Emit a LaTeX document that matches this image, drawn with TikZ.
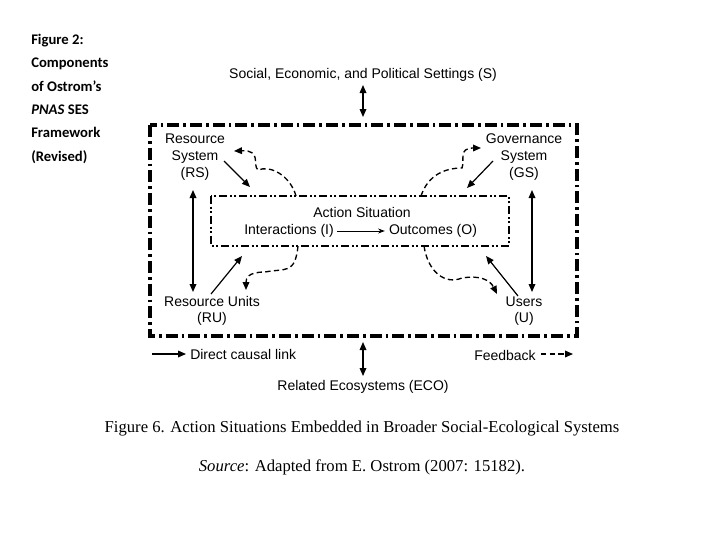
\documentclass[tikz,border=0pt]{standalone}
\usepackage{fontspec}
\setmainfont{Liberation Sans}
\newfontfamily\capfont{Liberation Serif}
\newfontfamily\leftfont{Carlito}
\usetikzlibrary{arrows.meta}
\begin{document}
\begin{tikzpicture}[x=0.75pt,y=-0.75pt,
  lbl/.style={font=\fontsize{10.5}{12.5}\selectfont, align=center, inner sep=0pt},
  causal/.style={-{Triangle[length=6pt,width=5pt]}, line width=0.9pt},
  dbl/.style={{Triangle[length=6pt,width=5pt]}-{Triangle[length=6pt,width=5pt]}, line width=0.9pt},
  fb/.style={-{Triangle[length=6pt,width=5pt]}, line width=1pt, dash pattern=on 4pt off 2.5pt}]
\useasboundingbox (0,0) rectangle (720,540);
\fill[white] (0,0) rectangle (720,540);
% left text
\node[anchor=north west, align=left, font=\leftfont\bfseries\fontsize{11}{17.5}\selectfont, inner sep=0pt] (lt) at (31,34)
 {Figure 2:\\Components\\of Ostrom’s\\\textit{PNAS} SES\\Framework\\(Revised)};
% boxes
\draw[line width=2.6pt, dash pattern=on 9pt off 3pt on 2pt off 3pt] (150,125) rectangle (577,336);
\draw[line width=1.3pt, dash pattern=on 6pt off 2pt on 1.5pt off 2pt on 1.5pt off 2pt] (211,196) rectangle (509,246);
\node[lbl] (as) at (362,212) {Action Situation};
\node[lbl] (int) at (289,231) {Interactions (I)};
\node[lbl] (out) at (433,231) {Outcomes (O)};
\draw[-{Stealth[length=5pt]}, line width=0.6pt] (int.east)+(3,0) coordinate (ia) -- ([xshift=-3pt]out.west);
% nodes
\node[lbl] (s) at (363,75) {Social, Economic, and Political Settings (S)};
\node[lbl] (eco) at (363,387) {Related Ecosystems (ECO)};
\node[lbl] (rs) at (195,157) {Resource\\System\\(RS)};
\node[lbl] (gs) at (524,157) {Governance\\System\\(GS)};
\node[lbl] (ru) at (212,311) {Resource Units\\(RU)};
\node[lbl] (u) at (524,311) {Users\\(U)};
\coordinate (s1) at (363,85); \coordinate (s2) at (363,117);
\coordinate (e1) at (363,342); \coordinate (e2) at (363,376);
\draw[dbl] (s1) -- (s2);
\draw[dbl] (e1) -- (e2);
\coordinate (rsv1) at (193,190); \coordinate (rsv2) at (193,292);
\coordinate (gsv1) at (532,190); \coordinate (gsv2) at (532,292);
\draw[dbl] (rsv1) -- (rsv2);
\draw[dbl] (gsv1) -- (gsv2);
\coordinate (a1) at (224,161); \coordinate (a2) at (250,187);
\coordinate (b1) at (493,161); \coordinate (b2) at (467,188);
\coordinate (c1) at (211,294); \coordinate (c2) at (242,256);
\coordinate (d1) at (518,296); \coordinate (d2) at (486,256);
\draw[causal] (a1) -- (a2);
\draw[causal] (b1) -- (b2);
\draw[causal] (c1) -- (c2);
\draw[causal] (d1) -- (d2);
% feedback curves
\draw[fb] (296,196) .. controls (290,175) and (270,165) .. (258,170) .. controls (252,165) and (262,150) .. (234,151);
\draw[fb] (421,196) .. controls (428,175) and (445,168) .. (462,168) .. controls (465,160) and (458,148) .. (481,148);
\draw[fb] (298,246) .. controls (295,275) and (285,268) .. (265,272) .. controls (248,272) and (246,278) .. (246,290);
\draw[fb] (424,246) .. controls (428,272) and (445,285) .. (462,278) .. controls (480,275) and (490,280) .. (497,294);
% legend
\coordinate (l1) at (152,354); \coordinate (l2) at (186,354);
\draw[causal] (l1) -- (l2);
\node[lbl, anchor=west] (dcl) at (190,354) {Direct causal link};
\node[lbl, anchor=east] (fbl) at (536,355) {Feedback};
\coordinate (f1) at (541,354); \coordinate (f2) at (573,354);
\draw[fb] (f1) -- (f2);
% caption
\node[font=\capfont\fontsize{12.5}{14}\selectfont, inner sep=0pt] (cap) at (362,429) {Figure 6. Action Situations Embedded in Broader Social-Ecological Systems};
\node[font=\capfont\fontsize{12.5}{14}\selectfont, inner sep=0pt] (src) at (362,467) {\textit{Source}: Adapted from E. Ostrom (2007: 15182).};
\end{tikzpicture}
\end{document}
